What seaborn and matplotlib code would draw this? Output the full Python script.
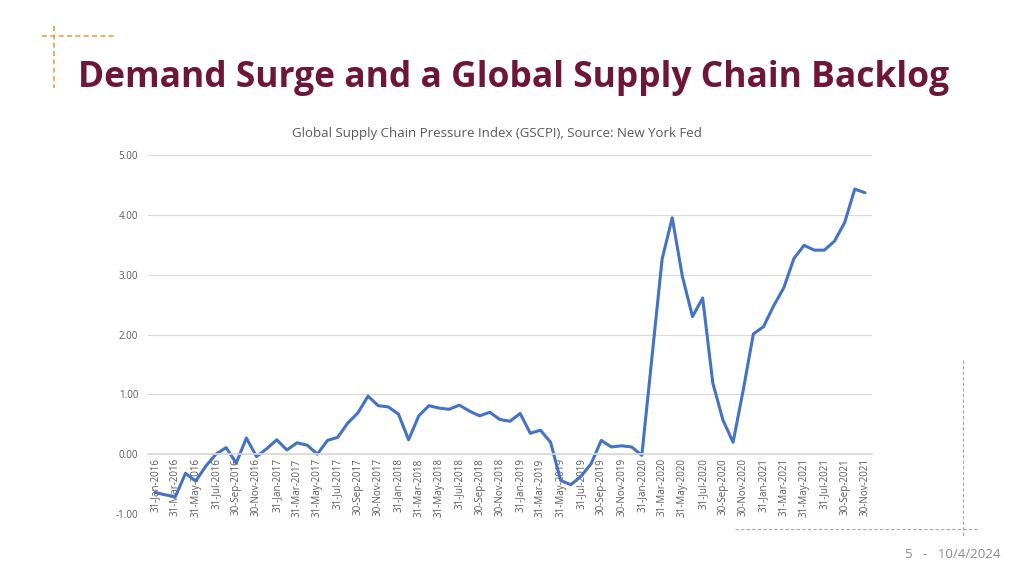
import matplotlib
matplotlib.use("Agg")
import matplotlib.pyplot as plt
import matplotlib.lines as mlines
import seaborn as sns
import pandas as pd
import numpy as np

# ---- data ----
months = pd.date_range("2016-01-31", periods=71, freq="ME")
gscpi = [
    -0.64, -0.68, -0.71, -0.32, -0.45, -0.20, 0.00, 0.11, -0.15, 0.27, -0.04, 0.09,   # 2016
    0.24, 0.07, 0.19, 0.15, 0.00, 0.23, 0.28, 0.52, 0.69, 0.97, 0.81, 0.79,          # 2017
    0.67, 0.24, 0.64, 0.81, 0.77, 0.75, 0.82, 0.72, 0.64, 0.70, 0.58, 0.55,          # 2018
    0.68, 0.35, 0.40, 0.20, -0.44, -0.51, -0.37, -0.16, 0.23, 0.12, 0.14, 0.12,      # 2019
    -0.02, 1.62, 3.26, 3.95, 2.97, 2.30, 2.61, 1.19, 0.57, 0.20, 1.07, 2.01,         # 2020
    2.13, 2.48, 2.78, 3.27, 3.49, 3.41, 3.41, 3.56, 3.87, 4.43, 4.37,                # 2021
]
tick_labels = [d.strftime("%d-%b-%Y") for d in months][::2]
y_ticks = [-1, 0, 1, 2, 3, 4, 5]

title = "Demand Surge and a Global Supply Chain Backlog"
chart_title = "Global Supply Chain Pressure Index (GSCPI), Source: New York Fed"
footer = "5   -   10/4/2024"

# ---- style ----
sns.set_theme(style="white")
plt.rcParams["font.family"] = ["Open Sans", "DejaVu Sans"]

W, H = 1024, 576
fig = plt.figure(figsize=(W / 100, H / 100), dpi=100)
left, right, top, bottom = 148, 872, 155, 514
ax = fig.add_axes([left / W, 1 - bottom / H, (right - left) / W, (bottom - top) / H])

df = pd.DataFrame({"i": np.arange(len(gscpi)), "v": gscpi})
sns.lineplot(data=df, x="i", y="v", ax=ax, color="#4472C4", linewidth=2.2)

# spines first (set_position resets tick properties)
for s in ["top", "left", "right"]:
    ax.spines[s].set_visible(False)
ax.spines["bottom"].set_position(("data", 0))
ax.spines["bottom"].set_color("#D9D9D9")
ax.spines["bottom"].set_linewidth(1.2)

ax.set_xlim(-0.7, len(gscpi) - 1 + 0.7)
ax.set_ylim(-1, 5)
ax.set_yticks(y_ticks)
ax.set_yticklabels([f"{v:.2f}" for v in y_ticks], color="#595959", fontsize=7)
ax.set_xticks(np.arange(0, len(gscpi), 2))
ax.set_xticklabels(tick_labels, rotation=90, color="#595959", fontsize=7)
ax.tick_params(axis="both", length=0)
ax.tick_params(axis="y", pad=7)
ax.tick_params(axis="x", pad=3)
ax.set_xlabel("")
ax.set_ylabel("")
ax.yaxis.grid(True, color="#D9D9D9", linewidth=0.8)
ax.xaxis.grid(False)
ax.set_axisbelow(True)

# titles
fig.text(78 / W, 1 - 78 / H, title, fontsize=25.5, fontweight="bold",
         color="#6E1638", ha="left", va="center")
fig.text(497 / W, 1 - 133 / H, chart_title, fontsize=9.5, color="#595959",
         ha="center", va="center")
fig.text(1000 / W, 1 - 555 / H, footer, fontsize=9.5, color="#8C8C8C",
         ha="right", va="center")

# decorative dashed guides
def fline(x0, y0, x1, y1, color, lw=1.0):
    fig.add_artist(mlines.Line2D([x0 / W, x1 / W], [1 - y0 / H, 1 - y1 / H],
                                 color=color, linewidth=lw, linestyle=(0, (3, 2)),
                                 transform=fig.transFigure))

fline(42, 36, 117, 36, "#E8A04C", 1.2)
fline(54, 26, 54, 88, "#E8A04C", 1.2)
fline(963, 360, 963, 537, "#A6A6A6", 0.8)
fline(735, 529, 978, 529, "#A6A6A6", 0.8)

fig.savefig("out.png", dpi=100, facecolor="white")
